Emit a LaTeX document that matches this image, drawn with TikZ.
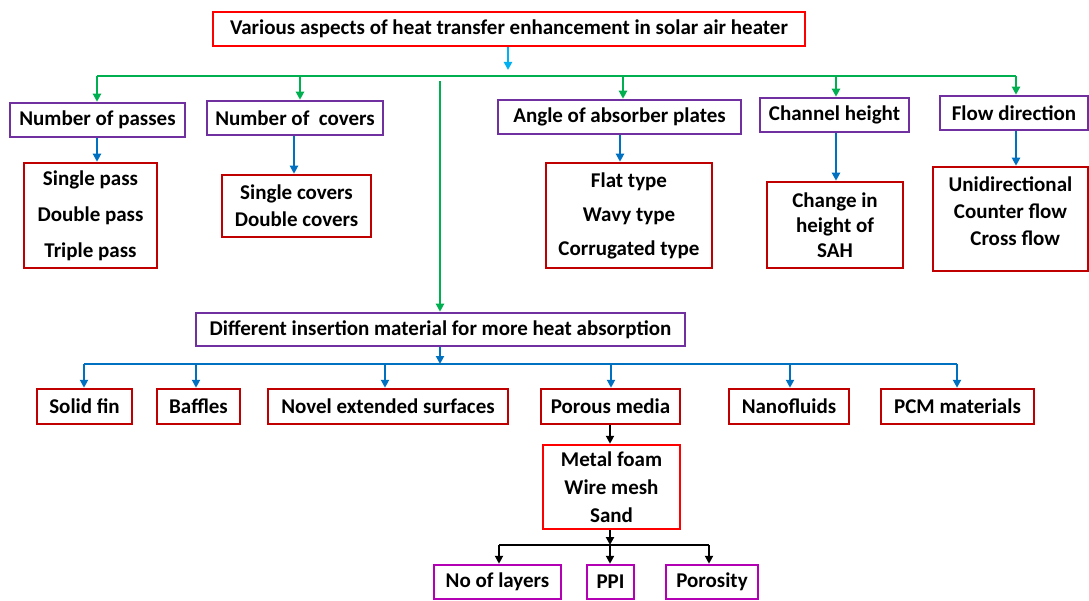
\documentclass[tikz,border=0pt]{standalone}
\usepackage{fontspec}
\setmainfont{Carlito}
\usetikzlibrary{arrows.meta}

\definecolor{boxred}{RGB}{192,0,0}
\definecolor{brightred}{RGB}{255,0,0}
\definecolor{boxpurple}{RGB}{112,48,160}
\definecolor{boxmagenta}{RGB}{180,0,180}
\definecolor{lgreen}{RGB}{0,176,80}
\definecolor{lblue}{RGB}{0,112,192}
\definecolor{lcyan}{RGB}{0,176,240}

\newcommand{\boxfont}[1]{\fontsize{21}{#1}\selectfont\bfseries}

\tikzset{
  base/.style={draw, line width=2.5pt, fill=white, inner sep=0pt, align=center,
    font=\boxfont{25}},
  redbox/.style={base, draw=boxred},
  brightbox/.style={base, draw=brightred},
  purplebox/.style={base, draw=boxpurple},
  magbox/.style={base, draw=boxmagenta},
  wire/.style={line width=2.2pt},
  tipped/.style={wire, -{Triangle[length=8pt,width=8pt]}},
  garrow/.style={tipped, lgreen},
  barrow/.style={tipped, lblue},
  karrow/.style={tipped, black},
}

\begin{document}
\begin{tikzpicture}[x=1pt,y=-1pt]
\useasboundingbox (0,0) rectangle (1089,601);

% title
\node[brightbox, minimum width=592, minimum height=34] (title) at (509,29)
  {Various aspects of heat transfer enhancement in solar air heater};

% first level
\node[purplebox, minimum width=175, minimum height=34] (passes) at (97.5,120) {Number of passes};
\node[purplebox, minimum width=176, minimum height=34] (covers) at (295,118) {Number of\ \ covers};
\node[purplebox, minimum width=243, minimum height=34] (angle) at (619.5,117) {Angle of absorber plates};
\node[purplebox, minimum width=149, minimum height=34] (channel) at (834.5,115) {Channel height};
\node[purplebox, minimum width=148, minimum height=34] (flow) at (1014,113) {Flow direction};

% second level lists
\node[redbox, minimum width=133, minimum height=105, font=\boxfont{36}] (passesL) at (90.5,215.5)
  {Single pass\\Double pass\\Triple pass};
\node[redbox, minimum width=149, minimum height=62, font=\boxfont{27}] (coversL) at (296.5,206)
  {Single covers\\Double covers};
\node[redbox, minimum width=166, minimum height=105, font=\boxfont{34}] (angleL) at (629,215.5)
  {Flat type\\Wavy type\\Corrugated type};
\node[redbox, minimum width=136, minimum height=86, font=\boxfont{25}] (channelL) at (835,225)
  {Change in\\height of\\SAH};
\node[redbox, minimum width=155, minimum height=104, font=\boxfont{27}] (flowL) at (1010.5,219)
  {Unidirectional\\Counter flow\\\ \ Cross flow\rule[-15pt]{0pt}{15pt}};

% insertion materials
\node[purplebox, minimum width=489, minimum height=33] (diff) at (440.5,329.5)
  {Different insertion material for more heat absorption};

\node[redbox, minimum width=95, minimum height=35] (solid) at (84.5,406.5) {Solid fin};
\node[redbox, minimum width=83, minimum height=35] (baffles) at (198.5,406.5) {Baffles};
\node[redbox, minimum width=240, minimum height=35] (novel) at (388,406.5) {Novel extended surfaces};
\node[redbox, minimum width=139, minimum height=35] (porous) at (610.5,406.5) {Porous media};
\node[redbox, minimum width=120, minimum height=35] (nano) at (789,406.5) {Nanofluids};
\node[redbox, minimum width=153, minimum height=35] (pcm) at (957.5,406.5) {PCM materials};

\node[brightbox, minimum width=137, minimum height=84, font=\boxfont{28}] (metal) at (611.5,487)
  {Metal foam\\Wire mesh\\Sand};

\node[magbox, minimum width=127, minimum height=34] (layers) at (497.5,582) {No of layers};
\node[magbox, minimum width=47, minimum height=34] (ppi) at (610.5,582) {PPI};
\node[magbox, minimum width=92, minimum height=34] (porosity) at (712,582) {Porosity};

% bus points
\coordinate (topin) at (508,70);
\coordinate (gbL) at (97,76);
\coordinate (gbR) at (1016,76);
\coordinate (gv) at (440,81);
\coordinate (bbus) at (440,364);
\coordinate (bbL) at (84,364);
\coordinate (bbR) at (957,364);
\coordinate (kbus) at (610,545);
\coordinate (kbL) at (499,545);
\coordinate (kbR) at (709,545);

% connectors from the title
\draw[tipped, lcyan] (title.south -| topin) -- (topin);
\draw[wire, lgreen] (gbL) -- (gbR);
\draw[garrow] (gbL) -- (gbL |- passes.north);
\draw[garrow] (gbL -| 300,0) -- (300,0 |- covers.north);
\draw[garrow] (gbL -| 623,0) -- (623,0 |- angle.north);
\draw[garrow] (gbL -| 836,0) -- (836,0 |- channel.north);
\draw[garrow] (gbR) -- (gbR |- flow.north);
\draw[garrow] (gv) -- (gv |- diff.north);

% first level to lists
\draw[barrow] (passes.south -| 97,0) -- (97,0 |- passesL.north);
\draw[barrow] (covers.south -| 294,0) -- (294,0 |- coversL.north);
\draw[barrow] (angle.south -| 620,0) -- (620,0 |- angleL.north);
\draw[barrow] (channel.south -| 836,0) -- (836,0 |- channelL.north);
\draw[barrow] (flow.south -| 1016,0) -- (1016,0 |- flowL.north);

% insertion materials
\draw[barrow] (diff.south -| bbus) -- (bbus);
\draw[wire, lblue] (bbL) -- (bbR);
\draw[barrow] (bbL) -- (bbL |- solid.north);
\draw[barrow] (bbL -| 196,0) -- (196,0 |- baffles.north);
\draw[barrow] (bbL -| 385,0) -- (385,0 |- novel.north);
\draw[barrow] (bbL -| 611,0) -- (611,0 |- porous.north);
\draw[barrow] (bbL -| 790,0) -- (790,0 |- nano.north);
\draw[barrow] (bbR) -- (bbR |- pcm.north);

% porous media branch
\draw[karrow] (porous.south -| kbus) -- (kbus |- metal.north);
\draw[karrow] (metal.south -| kbus) -- (kbus);
\draw[wire, black] (kbL) -- (kbR);
\draw[karrow] (kbL) -- (kbL |- layers.north);
\draw[karrow] (kbus) -- (kbus |- ppi.north);
\draw[karrow] (kbR) -- (kbR |- porosity.north);
\end{tikzpicture}
\end{document}
